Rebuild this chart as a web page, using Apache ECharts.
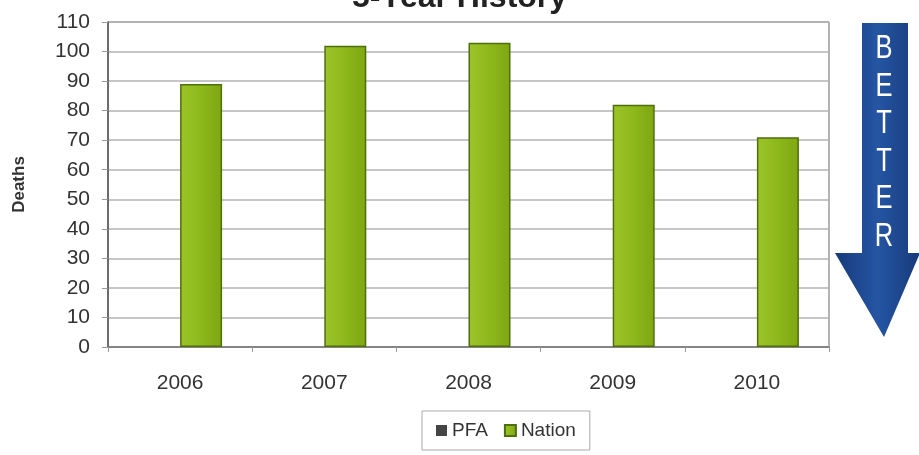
<!DOCTYPE html>
<html>
<head>
<meta charset="utf-8">
<script src="https://cdn.jsdelivr.net/npm/echarts@6/dist/echarts.min.js"></script>
<style>
  html, body { margin: 0; padding: 0; background: #fff; }
  #chart { width: 919px; height: 455px; }
</style>
</head>
<body>
<div id="chart"></div>
<script>
// Yearly death counts, 2006-2010
const years = ['2006', '2007', '2008', '2009', '2010'];
const pfaDeaths = [null, null, null, null, null];
const nationDeaths = [89, 102, 103, 82, 71];
const betterLetters = ['B', 'E', 'T', 'T', 'E', 'R'];

const chart = echarts.init(document.getElementById('chart'), null, { renderer: 'canvas' });

const FONT = 'Liberation Sans, Arial, sans-serif';

// Blue "BETTER" arrow pointing down, to the right of the plot
const arrowGraphics = [
  {
    type: 'polygon',
    shape: {
      points: [[862, 23], [908, 23], [908, 253], [920, 253], [884, 337], [835, 253], [862, 253]]
    },
    style: {
      fill: new echarts.graphic.LinearGradient(0, 0, 1, 0, [
        { offset: 0, color: '#173a7a' },
        { offset: 0.5, color: '#2555a3' },
        { offset: 1, color: '#173a7a' }
      ])
    },
    z: 10
  }
].concat(betterLetters.map((ch, i) => ({
  type: 'text',
  x: 884,
  y: 49 + i * 37.5,
  scaleX: 0.85,
  scaleY: 1.1,
  style: {
    text: ch,
    x: 0,
    y: 0,
    fill: '#ffffff',
    font: '30px ' + FONT,
    textAlign: 'center',
    textVerticalAlign: 'middle'
  },
  z: 11
})));

chart.setOption({
  animation: false,
  backgroundColor: '#ffffff',
  title: {
    text: '5-Year History',
    left: 'center',
    top: -23,
    textStyle: { fontFamily: FONT, fontSize: 32, fontWeight: 'bold', color: '#222' }
  },
  grid: {
    left: 108, right: 90, top: 22, bottom: 108,
    show: true,
    borderColor: '#666',
    borderWidth: 1
  },
  legend: {
    left: 422,
    top: 411,
    padding: [10, 14],
    borderColor: '#aaa',
    borderWidth: 1,
    itemWidth: 11,
    itemHeight: 11,
    itemGap: 16,
    textStyle: { fontFamily: FONT, fontSize: 19, color: '#333' },
    data: [
      { name: 'PFA', icon: 'rect' },
      { name: 'Nation', icon: 'rect' }
    ]
  },
  xAxis: {
    type: 'category',
    data: years,
    axisLine: { lineStyle: { color: '#777', width: 1.5 } },
    axisTick: { show: true, alignWithLabel: false, length: 5, lineStyle: { color: '#999' } },
    axisLabel: { fontFamily: FONT, fontSize: 21, color: '#333', margin: 26 }
  },
  yAxis: {
    type: 'value',
    min: 0,
    max: 110,
    interval: 10,
    name: 'Deaths',
    nameLocation: 'middle',
    nameGap: 80,
    nameRotate: 90,
    nameTextStyle: { fontFamily: FONT, fontSize: 17, fontWeight: 'bold', color: '#333' },
    axisLine: { show: true, lineStyle: { color: '#555', width: 1.5 } },
    axisTick: { show: true, length: 6, lineStyle: { color: '#999' } },
    axisLabel: { fontFamily: FONT, fontSize: 21, color: '#333', margin: 18 },
    splitLine: { lineStyle: { color: '#b3b3b3', width: 1.6 } }
  },
  series: [
    {
      name: 'PFA',
      type: 'bar',
      data: pfaDeaths,
      barWidth: 42,
      barGap: '0%',
      itemStyle: { color: '#444444' }
    },
    {
      name: 'Nation',
      type: 'bar',
      data: nationDeaths,
      barWidth: 42,
      itemStyle: {
        color: new echarts.graphic.LinearGradient(0, 0, 1, 0, [
          { offset: 0, color: '#9cc42a' },
          { offset: 0.5, color: '#8db81a' },
          { offset: 1, color: '#7ea612' }
        ]),
        borderColor: '#4f6e0e',
        borderWidth: 1.5
      }
    }
  ],
  graphic: arrowGraphics
});
</script>
</body>
</html>
